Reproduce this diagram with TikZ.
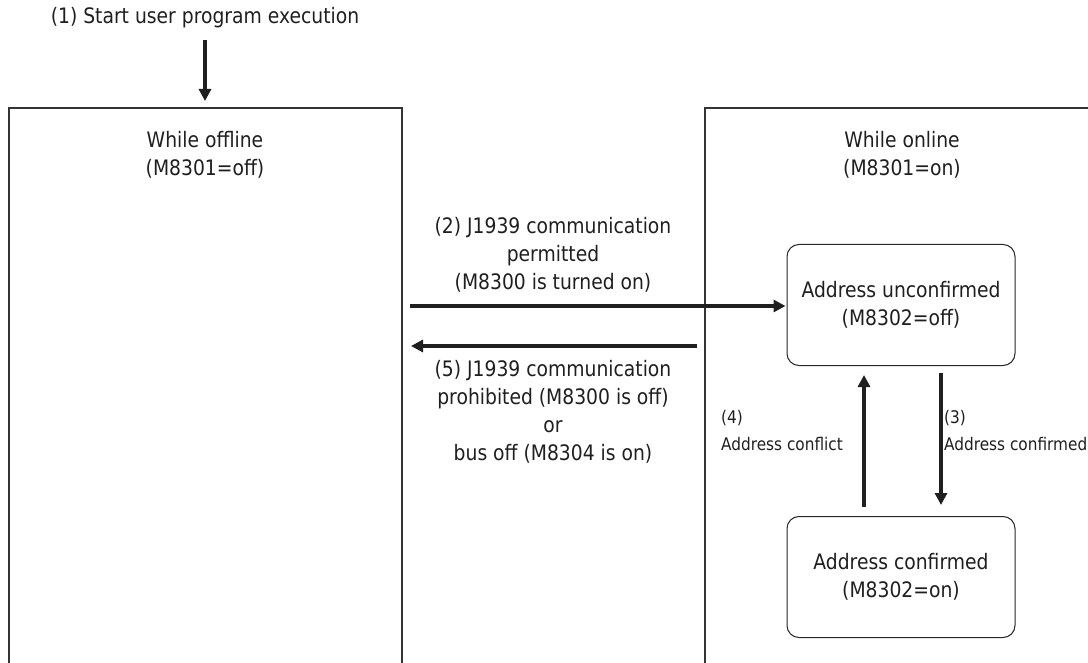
\documentclass[tikz,border=0pt]{standalone}
\usepackage{fontspec}
\setmainfont{DejaVu Sans}[FakeStretch=0.88]
\usetikzlibrary{arrows.meta}

\begin{document}
\begin{tikzpicture}[x=1pt, y=-1pt,
	every node/.style={font=\fontsize{21.3}{28}\selectfont, text=black!88, align=center},
	>={Triangle[length=12pt,width=12pt]},
	flow/.style={line width=3.6pt, black!88},
	frame/.style={line width=1.6pt, black!80},
	state/.style={draw=black!85, line width=1pt, rounded corners=12pt, minimum width=228pt, minimum height=121pt},
	side/.style={font=\fontsize{17.4}{27}\selectfont, align=left, anchor=west, inner sep=0pt}]
	\useasboundingbox (0,0) rectangle (1088,663);
	% mode frames (cut off at the bottom)
	\draw[frame] (9,665) |- (402,108) -- (402,665);
	\draw[frame] (705,665) |- (1092,108);
	\node (title) at (205,18) {(1) Start user program execution};
	\node (offline) at (205,155) {While offline\\(M8301=off)};
	\node (online) at (902,155) {While online\\(M8301=on)};
	\coordinate (entry) at (205,101);
	\draw[flow,->] (title.south) ++(0,8) -- (entry);
	% address states
	\node[state] (unconf) at (901,305) {Address unconfirmed\\(M8302=off)};
	\node[state] (conf) at (901,577) {Address confirmed\\(M8302=on)};
	% going online / offline
	\coordinate (offR) at (410,306);
	\coordinate (onL) at (697,346);
	\coordinate (offR2) at (411,346);
	\draw[flow,->] (offR) -- ([xshift=-1pt]unconf.west |- offR);
	\draw[flow,->] (onL) -- (offR2);
	\node (permit) at (553,255) {(2) J1939 communication\\permitted\\(M8300 is turned on)};
	\node (prohibit) at (553,412) {(5) J1939 communication\\prohibited (M8300 is off)\\or\\bus off (M8304 is on)};
	% address transitions
	\draw[flow,->, shorten <=9pt, shorten >=9pt] ([xshift=-37pt]conf.north) -- ([xshift=-37pt]unconf.south);
	\draw[flow,->, shorten <=7pt, shorten >=11pt] ([xshift=40pt]unconf.south) -- ([xshift=40pt]conf.north);
	\node[side] (conflict) at (721,431) {(4)\\Address conflict};
	\node[side] (confirmed) at (944,431) {(3)\\Address confirmed};
\end{tikzpicture}
\end{document}
